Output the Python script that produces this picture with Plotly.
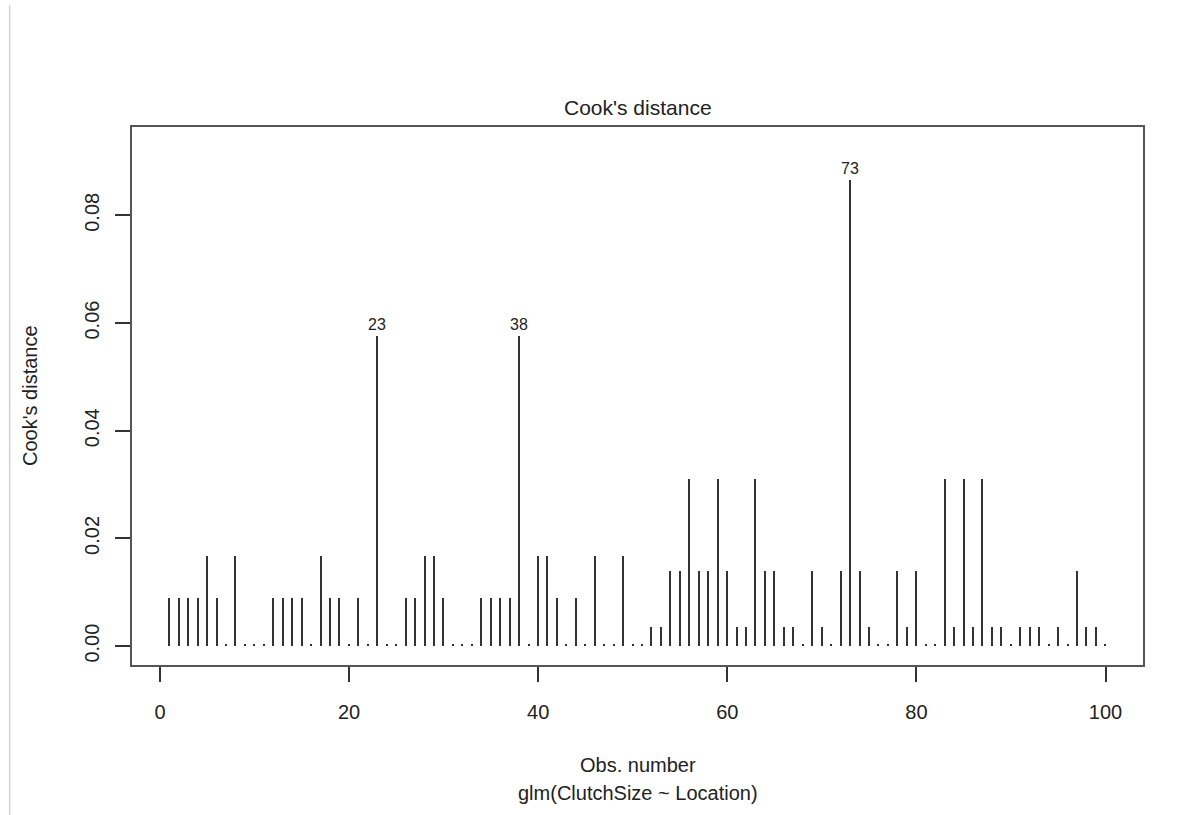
import plotly.graph_objects as go

# Cook's distance per observation, glm(ClutchSize ~ Location)
obs = list(range(1, 101))
cooks = [
    0.0090, 0.0090, 0.0090, 0.0090, 0.0168, 0.0090, 0.0004, 0.0168, 0.0004, 0.0004,   # 1-10
    0.0004, 0.0090, 0.0090, 0.0090, 0.0090, 0.0004, 0.0168, 0.0090, 0.0090, 0.0004,   # 11-20
    0.0090, 0.0004, 0.0575, 0.0004, 0.0004, 0.0090, 0.0090, 0.0168, 0.0168, 0.0090,   # 21-30
    0.0004, 0.0004, 0.0004, 0.0090, 0.0090, 0.0090, 0.0090, 0.0575, 0.0004, 0.0168,   # 31-40
    0.0168, 0.0090, 0.0004, 0.0090, 0.0004, 0.0168, 0.0004, 0.0004, 0.0168, 0.0004,   # 41-50
    0.0004, 0.0036, 0.0036, 0.0140, 0.0140, 0.0311, 0.0140, 0.0140, 0.0311, 0.0140,   # 51-60
    0.0036, 0.0036, 0.0311, 0.0140, 0.0140, 0.0036, 0.0036, 0.0004, 0.0140, 0.0036,   # 61-70
    0.0004, 0.0140, 0.0865, 0.0140, 0.0036, 0.0004, 0.0004, 0.0140, 0.0036, 0.0140,   # 71-80
    0.0004, 0.0004, 0.0311, 0.0036, 0.0311, 0.0036, 0.0311, 0.0036, 0.0036, 0.0004,   # 81-90
    0.0036, 0.0036, 0.0036, 0.0004, 0.0036, 0.0004, 0.0140, 0.0036, 0.0036, 0.0004,   # 91-100
]
labelled = [23, 38, 73]

x_ticks = [0, 20, 40, 60, 80, 100]
y_ticks = [0.00, 0.02, 0.04, 0.06, 0.08]
y_tick_text = ["0.00", "0.02", "0.04", "0.06", "0.08"]

FONT = "Liberation Sans, Arial, Helvetica, sans-serif"

fig = go.Figure()
fig.add_trace(go.Bar(
    x=obs, y=cooks, width=0.15,
    marker=dict(color="#333333", line=dict(width=0)),
    hoverinfo="x+y", showlegend=False,
))

annotations = []
for o in labelled:
    annotations.append(dict(
        x=o, y=cooks[o - 1], xref="x", yref="y", text=str(o), showarrow=False,
        yanchor="bottom", yshift=1, font=dict(size=16, color="#222", family=FONT),
    ))

annotations += [
    dict(text="Cook's distance", x=0.5, y=1, xref="paper", yref="paper",
         yanchor="middle", yshift=20, showarrow=False,
         font=dict(size=21, color="#222", family=FONT)),
    dict(text="Obs. number", x=0.5, y=0, xref="paper", yref="paper",
         yanchor="middle", yshift=-100, showarrow=False,
         font=dict(size=20, color="#222", family=FONT)),
    dict(text="glm(ClutchSize ~ Location)", x=0.5, y=0, xref="paper", yref="paper",
         yanchor="middle", yshift=-128, showarrow=False,
         font=dict(size=20, color="#222", family=FONT)),
    dict(text="Cook's distance", x=0, y=0.5, xref="paper", yref="paper",
         xanchor="center", xshift=-102, textangle=-90, showarrow=False,
         font=dict(size=20, color="#222", family=FONT)),
]

fig.update_layout(
    width=1191, height=815,
    margin=dict(l=132, r=48, t=127, b=150),
    paper_bgcolor="white", plot_bgcolor="white",
    bargap=0,
    annotations=annotations,
    shapes=[dict(type="line", xref="paper", yref="paper",
                 x0=-0.121, x1=-0.121, y0=-0.3, y1=1.227,
                 line=dict(color="#d0d0d0", width=1.5))],
    xaxis=dict(
        range=[-2.96, 103.96], tickvals=x_ticks, ticks="outside", ticklen=15,
        tickwidth=1.5, tickcolor="#333", showline=True, linecolor="#555",
        linewidth=1.5, mirror=True, showgrid=False, zeroline=False,
        tickfont=dict(size=20, color="#222", family=FONT), ticklabelstandoff=13,
    ),
    yaxis=dict(
        range=[-0.0035, 0.0964], tickvals=y_ticks, ticktext=y_tick_text,
        ticks="outside", ticklen=15, tickwidth=1.5, tickcolor="#333",
        showline=True, linecolor="#555", linewidth=1.5, mirror=True,
        showgrid=False, zeroline=False, tickangle=-90,
        tickfont=dict(size=20, color="#222", family=FONT), ticklabelstandoff=8,
    ),
)

fig.write_html("out.html")
